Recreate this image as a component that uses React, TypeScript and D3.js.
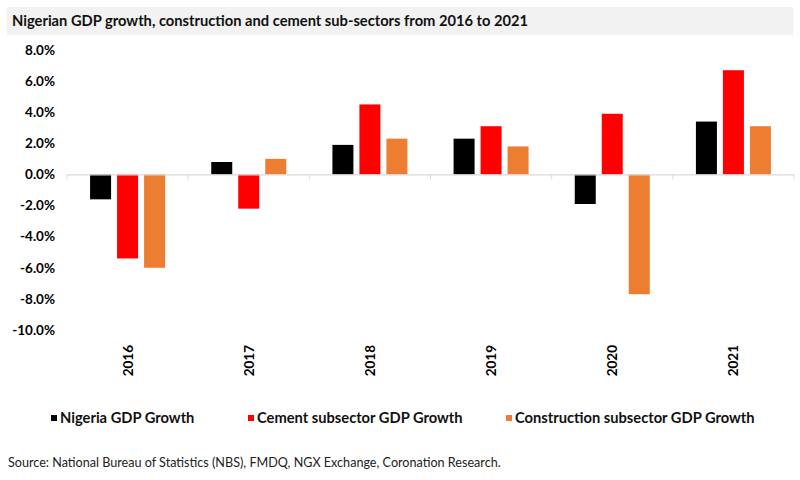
import React, { useLayoutEffect, useRef } from 'react';
import * as d3 from 'd3';

const years = ['2016', '2017', '2018', '2019', '2020', '2021'];
const seriesNames = [
  'Nigeria GDP Growth',
  'Cement subsector GDP Growth',
  'Construction subsector GDP Growth',
];
const nigeriaGdp = [-1.6, 0.8, 1.9, 2.3, -1.9, 3.4];
const cementGdp = [-5.4, -2.2, 4.5, 3.1, 3.9, 6.7];
const constructionGdp = [-6.0, 1.0, 2.3, 1.8, -7.7, 3.1];
const yTicks = [8, 6, 4, 2, 0, -2, -4, -6, -8, -10];

const colors = ['#000000', '#ff0000', '#ed7d31'];
const font = 'Lato, "Open Sans", sans-serif';

const chart = () => {
  const width = 800;
  const height = 480;
  const plot = { left: 67, right: 794, top: 50, bottom: 330 };

  return (container: HTMLDivElement) => {
    d3.select(container).selectAll('*').remove();
    const svg = d3
      .select(container)
      .append('svg')
      .attr('width', width)
      .attr('height', height)
      .style('position', 'absolute')
      .style('left', 0)
      .style('top', 0)
      .style('font-family', font);

    svg.append('rect').attr('width', width).attr('height', height).attr('fill', '#fff');

    // title band
    svg
      .append('rect')
      .attr('x', 7)
      .attr('y', 7)
      .attr('width', 786)
      .attr('height', 28)
      .attr('fill', '#f2f2f2');
    svg
      .append('text')
      .attr('x', 12)
      .attr('y', 26)
      .attr('font-size', 14.7)
      .attr('font-weight', 700)
      .attr('fill', '#111')
      .text('Nigerian GDP growth, construction and cement sub-sectors from 2016 to 2021');

    const x = d3.scaleBand<string>().domain(years).range([plot.left, plot.right]);
    const inner = d3
      .scaleBand<string>()
      .domain(seriesNames)
      .range([0, x.bandwidth()])
      .paddingInner(0.222)
      .paddingOuter(0.855);
    const y = d3.scaleLinear().domain([-10, 8]).range([plot.bottom, plot.top]);

    // y labels
    const yAxis = d3
      .axisLeft(y)
      .tickValues(yTicks)
      .tickSize(0)
      .tickPadding(0)
      .tickFormat((d) => `${(+d).toFixed(1)}%`);
    const yg = svg.append('g').attr('transform', 'translate(55,0)').call(yAxis);
    yg.select('.domain').remove();
    yg.selectAll('text')
      .attr('font-family', font)
      .attr('font-size', 13.5)
      .attr('font-weight', 700)
      .attr('fill', '#000');

    // bars
    const allSeries = [nigeriaGdp, cementGdp, constructionGdp];
    allSeries.forEach((vals, si) => {
      svg
        .append('g')
        .selectAll('rect')
        .data(vals)
        .join('rect')
        .attr('x', (_, i) => (x(years[i]) ?? 0) + (inner(seriesNames[si]) ?? 0))
        .attr('width', inner.bandwidth())
        .attr('y', (d) => Math.min(y(d), y(0)))
        .attr('height', (d) => Math.abs(y(d) - y(0)))
        .attr('fill', colors[si]);
    });

    // zero line with category ticks
    const xAxis = d3.axisBottom(x).tickSize(0).tickFormat(() => '');
    const xg = svg.append('g').attr('transform', `translate(0,${y(0)})`).call(xAxis);
    xg.select('.domain').attr('stroke', '#d9d9d9').attr('stroke-width', 1.2);
    xg.selectAll('.tick').remove();
    const boundaries = years.map((yr) => x(yr) ?? 0).concat([plot.right]);
    xg.selectAll('line.sep')
      .data(boundaries)
      .join('line')
      .attr('class', 'sep')
      .attr('x1', (d) => d)
      .attr('x2', (d) => d)
      .attr('y1', 0)
      .attr('y2', 5)
      .attr('stroke', '#d9d9d9');

    // year labels
    svg
      .append('g')
      .selectAll('text')
      .data(years)
      .join('text')
      .attr(
        'transform',
        (d) => `translate(${(x(d) ?? 0) + x.bandwidth() / 2 + 5},345) rotate(-90)`,
      )
      .attr('text-anchor', 'end')
      .attr('font-size', 13.5)
      .attr('font-weight', 700)
      .attr('fill', '#000')
      .text((d) => d);

    // legend
    const legendX = [51, 248, 506];
    const lg = svg
      .append('g')
      .selectAll('g')
      .data(seriesNames)
      .join('g')
      .attr('transform', (_, i) => `translate(${legendX[i]},418)`);
    lg.append('rect')
      .attr('x', 0)
      .attr('y', -3)
      .attr('width', 6)
      .attr('height', 6)
      .attr('fill', (_, i) => colors[i]);
    lg.append('text')
      .attr('x', 9)
      .attr('y', 5)
      .attr('font-size', 14.7)
      .attr('font-weight', 700)
      .attr('fill', '#111')
      .text((d) => d);

    // source
    svg
      .append('text')
      .attr('x', 8)
      .attr('y', 467)
      .attr('font-size', 12.6)
      .attr('fill', '#222')
      .text('Source: National Bureau of Statistics (NBS), FMDQ, NGX Exchange, Coronation Research.');
  };
};

export default function App() {
  const rootEl = useRef<HTMLDivElement>(null);

  useLayoutEffect(() => {
    if (rootEl.current) {
      chart()(rootEl.current);
    }
  }, []);

  return <div ref={rootEl} />;
}
